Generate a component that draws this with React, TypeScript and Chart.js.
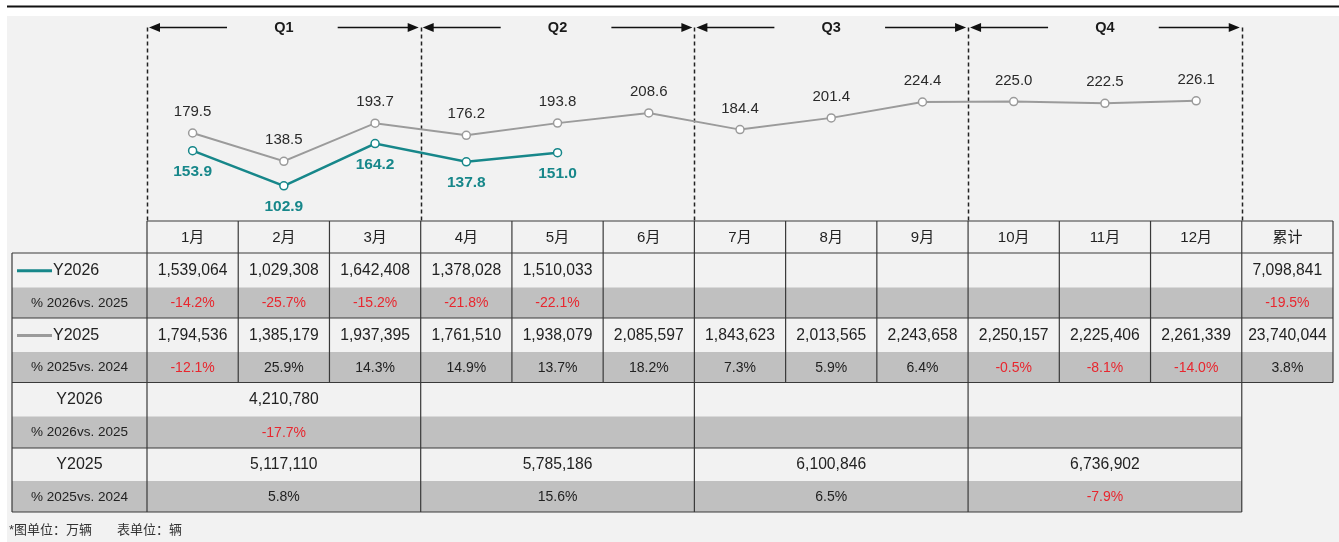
import React, { useEffect, useRef } from 'react';
import { Chart, registerables } from 'chart.js';

Chart.register(...registerables);

const W = 1339;
const H = 542;

const columns = ['1月', '2月', '3月', '4月', '5月', '6月', '7月', '8月', '9月', '10月', '11月', '12月', '累计'];
const quarters = ['Q1', 'Q2', 'Q3', 'Q4'];

// chart values (万辆)
const y2025Chart = [179.5, 138.5, 193.7, 176.2, 193.8, 208.6, 184.4, 201.4, 224.4, 225.0, 222.5, 226.1];
const y2026Chart = [153.9, 102.9, 164.2, 137.8, 151.0];

// table values (辆)
const y2026Units = [1539064, 1029308, 1642408, 1378028, 1510033];
const y2026Total = 7098841;
const y2026Pct = [-14.2, -25.7, -15.2, -21.8, -22.1];
const y2026TotalPct = -19.5;

const y2025Units = [1794536, 1385179, 1937395, 1761510, 1938079, 2085597, 1843623, 2013565, 2243658, 2250157, 2225406, 2261339];
const y2025Total = 23740044;
const y2025Pct = [-12.1, 25.9, 14.3, 14.9, 13.7, 18.2, 7.3, 5.9, 6.4, -0.5, -8.1, -14.0];
const y2025TotalPct = 3.8;

const q2026Units = [4210780];
const q2026Pct = [-17.7];
const q2025Units = [5117110, 5785186, 6100846, 6736902];
const q2025Pct = [5.8, 15.6, 6.5, -7.9];

const seriesNames = ['Y2026', 'Y2025'];
const pctNames = ['% 2026vs. 2025', '% 2025vs. 2024'];
const footnote = ['*图单位：万辆', '表单位：辆'];

const TEAL = '#17878a';
const GRAY = '#9b9b9b';
const RED = '#e8262e';
const TXT = '#222222';
const FONT = '"Liberation Sans", Arial, "Noto Sans CJK SC", sans-serif';

const fmtNum = (v: number) => v.toLocaleString('en-US');
const fmtPct = (v: number) => v.toFixed(1) + '%';

const tablePlugin = {
  id: 'cpcaTable',
  beforeDraw(chart: any) {
    const ctx = chart.ctx as CanvasRenderingContext2D;
    ctx.save();
    ctx.fillStyle = '#ffffff';
    ctx.fillRect(0, 0, W, H);
    ctx.fillStyle = '#f2f2f2';
    ctx.fillRect(7, 16, W - 7, H - 16);
    ctx.fillStyle = '#111111';
    ctx.fillRect(7, 5.5, W - 7, 2);
    ctx.restore();
  },
  beforeDatasetsDraw(chart: any) {
    const ctx = chart.ctx as CanvasRenderingContext2D;
    const xs = chart.scales.x;
    const cw = xs.getPixelForValue(1) - xs.getPixelForValue(0);
    const colLeft = (k: number) => xs.getPixelForValue(k) - cw / 2;
    const area = chart.chartArea;
    const arrowY = 27.5;
    ctx.save();
    // dashed quarter separators
    ctx.strokeStyle = '#222';
    ctx.lineWidth = 1.5;
    ctx.setLineDash([4, 3]);
    for (let q = 0; q <= 4; q++) {
      const x = Math.round(colLeft(q * 3)) + 0.5;
      ctx.beginPath();
      ctx.moveTo(x, arrowY);
      ctx.lineTo(x, area.bottom);
      ctx.stroke();
    }
    ctx.setLineDash([]);
    // arrows and labels
    ctx.fillStyle = '#111';
    ctx.strokeStyle = '#111';
    ctx.lineWidth = 1.5;
    quarters.forEach((ql, q) => {
      const a = colLeft(q * 3);
      const b = colLeft(q * 3 + 3);
      // left arrow
      ctx.beginPath();
      ctx.moveTo(a + 10, arrowY);
      ctx.lineTo(a + 80, arrowY);
      ctx.stroke();
      ctx.beginPath();
      ctx.moveTo(a + 2, arrowY);
      ctx.lineTo(a + 13, arrowY - 4.5);
      ctx.lineTo(a + 13, arrowY + 4.5);
      ctx.closePath();
      ctx.fill();
      // right arrow
      ctx.beginPath();
      ctx.moveTo(b - 83, arrowY);
      ctx.lineTo(b - 10, arrowY);
      ctx.stroke();
      ctx.beginPath();
      ctx.moveTo(b - 2, arrowY);
      ctx.lineTo(b - 13, arrowY - 4.5);
      ctx.lineTo(b - 13, arrowY + 4.5);
      ctx.closePath();
      ctx.fill();
      ctx.font = 'bold 14.5px ' + FONT;
      ctx.textAlign = 'center';
      ctx.textBaseline = 'middle';
      ctx.fillStyle = '#1a1a1a';
      ctx.fillText(ql, (a + b) / 2, arrowY + 0.5);
      ctx.fillStyle = '#111';
    });
    ctx.restore();
  },
  afterDatasetsDraw(chart: any) {
    const ctx = chart.ctx as CanvasRenderingContext2D;
    ctx.save();
    ctx.textAlign = 'center';
    ctx.textBaseline = 'middle';
    // point labels
    chart.data.datasets.forEach((ds: any, di: number) => {
      const meta = chart.getDatasetMeta(di);
      meta.data.forEach((pt: any, i: number) => {
        const v = ds.data[i];
        if (v == null) return;
        if (ds.label === 'Y2026') {
          ctx.font = 'bold 15.5px ' + FONT;
          ctx.fillStyle = TEAL;
          ctx.fillText(v.toFixed(1), pt.x, pt.y + 21);
        } else {
          ctx.font = '15px ' + FONT;
          ctx.fillStyle = '#2a2a2a';
          ctx.fillText(v.toFixed(1), pt.x, pt.y - 21);
        }
      });
    });
    ctx.restore();
  },
  afterDraw(chart: any) {
    const ctx = chart.ctx as CanvasRenderingContext2D;
    const xs = chart.scales.x;
    const cw = xs.getPixelForValue(1) - xs.getPixelForValue(0);
    const colLeft = (k: number) => xs.getPixelForValue(k) - cw / 2;
    const colC = (k: number) => xs.getPixelForValue(k);
    const top = chart.chartArea.bottom;
    const rows = [top, 253, 287.5, 318, 352, 382.5, 416.5, 448, 481, 512];
    const labL = 12;
    const labR = colLeft(0);
    const labC = (labL + labR) / 2;
    const rightTop = colLeft(13);
    const rightBot = colLeft(12);
    const rc = (r: number) => (rows[r] + rows[r + 1]) / 2 + 0.5;
    ctx.save();
    // gray rows
    ctx.fillStyle = '#c0c0c0';
    ctx.fillRect(labL, rows[2], rightTop - labL, rows[3] - rows[2]);
    ctx.fillRect(labL, rows[4], rightTop - labL, rows[5] - rows[4]);
    ctx.fillRect(labL, rows[6], rightBot - labL, rows[7] - rows[6]);
    ctx.fillRect(labL, rows[8], rightBot - labL, rows[9] - rows[8]);

    // borders
    ctx.strokeStyle = '#3a3a3a';
    ctx.lineWidth = 1.2;
    const hl = (y: number, x1: number, x2: number) => {
      ctx.beginPath();
      ctx.moveTo(x1, y);
      ctx.lineTo(x2, y);
      ctx.stroke();
    };
    const vl = (x: number, y1: number, y2: number) => {
      ctx.beginPath();
      ctx.moveTo(x, y1);
      ctx.lineTo(x, y2);
      ctx.stroke();
    };
    hl(rows[0], labR, rightTop);
    hl(rows[1], labL, rightTop);
    hl(rows[3], labL, rightTop);
    hl(rows[5], labL, rightTop);
    hl(rows[7], labL, rightBot);
    hl(rows[9], labL, rightBot);
    for (let k = 0; k <= 13; k++) vl(colLeft(k), rows[0], rows[5]);
    vl(labL, rows[1], rows[9]);
    for (let q = 0; q <= 4; q++) vl(colLeft(q * 3), rows[5], rows[9]);

    ctx.textAlign = 'center';
    ctx.textBaseline = 'middle';
    // header
    ctx.fillStyle = TXT;
    ctx.font = '15px ' + FONT;
    columns.forEach((c, k) => ctx.fillText(c, colC(k), rc(0)));

    // label column
    ctx.fillStyle = TEAL;
    ctx.fillRect(17, rc(1) - 1.5, 35, 3);
    ctx.fillStyle = GRAY;
    ctx.fillRect(17, rc(3) - 1.5, 35, 3);
    ctx.fillStyle = TXT;
    ctx.font = '16px ' + FONT;
    ctx.textAlign = 'left';
    ctx.fillText(seriesNames[0], 53, rc(1));
    ctx.fillText(seriesNames[1], 53, rc(3));
    ctx.textAlign = 'center';
    ctx.fillText(seriesNames[0], labC, rc(5));
    ctx.fillText(seriesNames[1], labC, rc(7));
    ctx.font = '13.5px ' + FONT;
    ctx.fillText(pctNames[0], labC, rc(2));
    ctx.fillText(pctNames[1], labC, rc(4));
    ctx.fillText(pctNames[0], labC, rc(6));
    ctx.fillText(pctNames[1], labC, rc(8));

    const num = (v: number, x: number, y: number) => {
      ctx.font = '15.7px ' + FONT;
      ctx.fillStyle = TXT;
      ctx.fillText(fmtNum(v), x, y);
    };
    const pct = (v: number, x: number, y: number) => {
      ctx.font = '14px ' + FONT;
      ctx.fillStyle = v < 0 ? RED : TXT;
      ctx.fillText(fmtPct(v), x, y);
    };
    y2026Units.forEach((v, k) => num(v, colC(k), rc(1)));
    num(y2026Total, colC(12), rc(1));
    y2026Pct.forEach((v, k) => pct(v, colC(k), rc(2)));
    pct(y2026TotalPct, colC(12), rc(2));
    y2025Units.forEach((v, k) => num(v, colC(k), rc(3)));
    num(y2025Total, colC(12), rc(3));
    y2025Pct.forEach((v, k) => pct(v, colC(k), rc(4)));
    pct(y2025TotalPct, colC(12), rc(4));

    const qc = (q: number) => (colLeft(q * 3) + colLeft(q * 3 + 3)) / 2;
    q2026Units.forEach((v, q) => num(v, qc(q), rc(5)));
    q2026Pct.forEach((v, q) => pct(v, qc(q), rc(6)));
    q2025Units.forEach((v, q) => num(v, qc(q), rc(7)));
    q2025Pct.forEach((v, q) => pct(v, qc(q), rc(8)));

    // footnote
    ctx.textAlign = 'left';
    ctx.fillStyle = '#333';
    ctx.font = '13px ' + FONT;
    ctx.fillText(footnote[0], 9, 530);
    ctx.fillText(footnote[1], 117, 530);
    ctx.restore();
  },
};

export default function App() {
  const ref = useRef<HTMLCanvasElement | null>(null);
  useEffect(() => {
    if (!ref.current) return;
    const pad = (arr: number[]) => columns.map((_, i) => (i < arr.length ? arr[i] : null));
    const chart = new Chart(ref.current, {
      type: 'line',
      data: {
        labels: columns,
        datasets: [
          {
            label: 'Y2026',
            data: pad(y2026Chart),
            borderColor: TEAL,
            borderWidth: 2.5,
            pointRadius: 4,
            pointBackgroundColor: '#ffffff',
            pointBorderColor: TEAL,
            pointBorderWidth: 1.5,
            tension: 0,
            spanGaps: false,
          },
          {
            label: 'Y2025',
            data: pad(y2025Chart),
            borderColor: GRAY,
            borderWidth: 2,
            pointRadius: 4,
            pointBackgroundColor: '#ffffff',
            pointBorderColor: GRAY,
            pointBorderWidth: 1.5,
            tension: 0,
            spanGaps: false,
          },
        ],
      },
      options: {
        responsive: false,
        animation: false,
        devicePixelRatio: 1,
        layout: { padding: { left: 147, right: 6, top: 16, bottom: H - 221 } },
        plugins: { legend: { display: false }, tooltip: { enabled: false }, title: { display: false } },
        scales: {
          x: { type: 'category', offset: true, display: false },
          y: { min: 52, max: 349, display: false },
        },
      },
      plugins: [tablePlugin],
    });
    return () => chart.destroy();
  }, []);
  return (
    <div style={{ position: 'absolute', left: 0, top: 0, width: W, height: H }}>
      <canvas ref={ref} width={W} height={H} style={{ display: 'block', width: W, height: H }} />
    </div>
  );
}
